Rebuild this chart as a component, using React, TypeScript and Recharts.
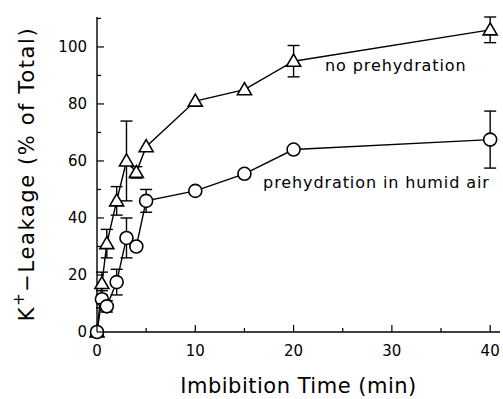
import { LineChart, Line, XAxis, YAxis, ErrorBar, ReferenceDot, Label } from 'recharts';

const time = [0, 0.5, 1, 2, 3, 4, 5, 10, 15, 20, 40];
const noPrehydration = [0, 17, 31, 46, 60, 56, 65, 81, 85, 95, 106];
const noPrehydrationErr = [0, 4, 5, 5, 14, 2, 0, 0, 0, 5.5, 4.5];
const humidAir = [0, 11.5, 9, 17.5, 33, 30, 46, 49.5, 55.5, 64, 67.5];
const humidAirErr = [0, 3, 2, 4.5, 7, 0, 4, 0, 0, 0, 10];

const xTicks = [0, 5, 10, 15, 20, 25, 30, 35, 40];
const yTicks = [0, 10, 20, 30, 40, 50, 60, 70, 80, 90, 100, 110];

const FONT = '"DejaVu Sans", sans-serif';

const data = time.map((t, i) => ({
  t,
  noPre: noPrehydration[i],
  noPreErr: noPrehydrationErr[i],
  humid: humidAir[i],
  humidErr: humidAirErr[i],
}));

const BottomTick = ({ x, y, payload }: any) => {
  const major = payload.value % 10 === 0;
  return (
    <g>
      <line x1={x} x2={x} y1={y} y2={y - (major ? 7 : 4)} stroke="#000" strokeWidth={1.2} />
      {major && (
        <text x={x} y={y + 24} textAnchor="middle" fontSize={15} fontFamily={FONT} fill="#000">
          {payload.value}
        </text>
      )}
    </g>
  );
};

const TopTick = ({ x, y, payload }: any) => {
  const major = payload.value % 10 === 0;
  return <line x1={x} x2={x} y1={y} y2={y + (major ? 7 : 4)} stroke="#000" strokeWidth={1.2} />;
};

const LeftTick = ({ x, y, payload }: any) => {
  const major = payload.value % 20 === 0 && payload.value <= 100;
  return (
    <g>
      <line x1={x} x2={x + (major ? 7 : 4)} y1={y} y2={y} stroke="#000" strokeWidth={1.2} />
      {major && (
        <text x={x - 10} y={y + 5} textAnchor="end" fontSize={15} fontFamily={FONT} fill="#000">
          {payload.value}
        </text>
      )}
    </g>
  );
};

const RightTick = ({ x, y, payload }: any) => {
  const major = payload.value % 20 === 0;
  return <line x1={x} x2={x - (major ? 7 : 4)} y1={y} y2={y} stroke="#000" strokeWidth={1.2} />;
};

const Triangle = ({ cx, cy }: any) => {
  if (cx == null || cy == null) return null;
  return (
    <polygon
      points={`${cx},${cy - 7} ${cx - 7},${cy + 5} ${cx + 7},${cy + 5}`}
      fill="#fff"
      stroke="#000"
      strokeWidth={1.6}
    />
  );
};

const Circle = ({ cx, cy }: any) => {
  if (cx == null || cy == null) return null;
  return <circle cx={cx} cy={cy} r={6.5} fill="#fff" stroke="#000" strokeWidth={1.6} />;
};

const textLabel = (text: string) => (props: any) => {
  const { viewBox } = props;
  return (
    <text
      x={viewBox.x}
      y={viewBox.y + 6}
      fontSize={16}
      letterSpacing={0.9}
      fontFamily={FONT}
      fill="#000"
    >
      {text}
    </text>
  );
};

const YTitle = () => {
  const cx = 27;
  const cy = 174;
  return (
    <text
      x={cx}
      y={cy}
      transform={`rotate(-90, ${cx}, ${cy})`}
      textAnchor="middle"
      dominantBaseline="central"
      fontSize={21}
      letterSpacing={1.6}
      fontFamily={FONT}
      fill="#000"
    >
      K<tspan fontSize={15} dy={-8}>+</tspan>
      <tspan dy={8}>−Leakage (% of Total)</tspan>
    </text>
  );
};

const XTitle = ({ viewBox }: any) => (
  <text
    x={viewBox.x + viewBox.width / 2}
    y={viewBox.y + 61}
    textAnchor="middle"
    fontSize={21}
    letterSpacing={0.5}
    fontFamily={FONT}
    fill="#000"
  >
    Imbibition Time (min)
  </text>
);

export default function App() {
  return (
    <div style={{ position: 'absolute', left: 0, top: 0, background: '#fff' }}>
      <LineChart
        width={503}
        height={399}
        data={data}
        margin={{ top: 17, right: 3, bottom: 0, left: 0 }}
      >
        <XAxis
          dataKey="t"
          type="number"
          domain={[0, 41]}
          ticks={xTicks}
          tick={<BottomTick />}
          tickLine={false}
          tickSize={0}
          tickMargin={0}
          height={67}
          axisLine={{ stroke: '#000', strokeWidth: 1.4 }}
          interval={0}
        >
          <Label content={<XTitle />} />
        </XAxis>
        <XAxis
          xAxisId="top"
          orientation="top"
          dataKey="t"
          type="number"
          domain={[0, 41]}
          ticks={xTicks}
          tick={<TopTick />}
          tickLine={false}
          tickSize={0}
          tickMargin={0}
          height={0}
          axisLine={{ stroke: '#000', strokeWidth: 1.4 }}
          interval={0}
        />
        <YAxis
          type="number"
          domain={[0, 110]}
          ticks={yTicks}
          tick={<LeftTick />}
          tickLine={false}
          tickSize={0}
          tickMargin={0}
          width={97}
          axisLine={{ stroke: '#000', strokeWidth: 1.4 }}
          interval={0}
        >
          <Label content={<YTitle />} />
        </YAxis>
        <YAxis
          yAxisId="right"
          orientation="right"
          type="number"
          domain={[0, 110]}
          ticks={yTicks}
          tick={<RightTick />}
          tickLine={false}
          tickSize={0}
          tickMargin={0}
          width={0}
          axisLine={{ stroke: '#000', strokeWidth: 1.4 }}
          interval={0}
        />
        <Line
          dataKey="noPre"
          type="linear"
          stroke="#000"
          strokeWidth={1.4}
          dot={<Triangle />}
          activeDot={false}
          isAnimationActive={false}
        >
          <ErrorBar dataKey="noPreErr" width={6} stroke="#000" strokeWidth={1.4} />
        </Line>
        <Line
          dataKey="humid"
          type="linear"
          stroke="#000"
          strokeWidth={1.4}
          dot={<Circle />}
          activeDot={false}
          isAnimationActive={false}
        >
          <ErrorBar dataKey="humidErr" width={6} stroke="#000" strokeWidth={1.4} />
        </Line>
        <ReferenceDot x={23.2} y={93.6} r={0} label={textLabel('no prehydration')} />
        <ReferenceDot x={16.9} y={52.5} r={0} label={textLabel('prehydration in humid air')} />
      </LineChart>
    </div>
  );
}
